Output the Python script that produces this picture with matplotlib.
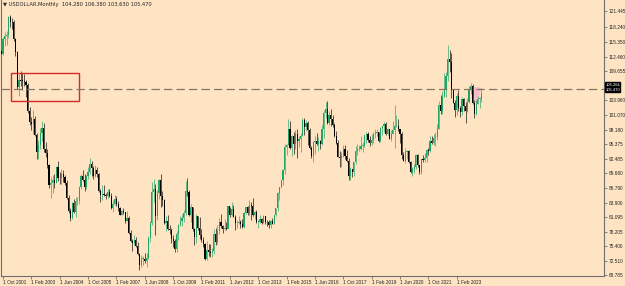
#!/usr/bin/env python3
"""Monthly USDOLLAR candles, MT4 style, with a marked zone and a level line."""

import matplotlib

matplotlib.use("Agg")
import matplotlib.pyplot as plt
import numpy as np
import pandas as pd

plt.rcParams["lines.scale_dashes"] = False
plt.rcParams["font.family"] = ["Liberation Sans Narrow", "Liberation Sans", "DejaVu Sans"]

# monthly bars, Sep 2001 .. Apr 2024 (open = previous close)
first_open = 113.7
closes = [
    113.1, 115.9, 116.6, 116.8,  # 2001 Sep-Dec
    120.2, 119.3, 119.2, 115.9, 113.4, 106.6, 107.9, 107.8, 107.7, 107.6, 107.0, 101.8,  # 2002
    99.7, 99.3, 100.3, 97.2, 93.8, 95.3, 97.5, 98.6, 94.4, 93.6, 91.4, 87.4,  # 2003
    87.7, 88.3, 87.8, 90.9, 88.8, 88.7, 89.6, 88.9, 87.7, 84.9, 82.3, 80.9,  # 2004
    83.8, 82.1, 84.2, 84.3, 87.1, 89.1, 88.4, 87.1, 89.2, 89.9, 91.6, 90.8,  # 2005
    89.2, 90.3, 89.6, 86.3, 85.4, 85.5, 85.4, 85.3, 86.1, 85.3, 82.9, 83.7,  # 2006
    84.7, 83.6, 82.9, 81.6, 82.3, 82.1, 80.4, 80.9, 78.0, 76.4, 76.0, 76.7,  # 2007
    75.4, 73.8, 71.8, 72.9, 73.0, 72.5, 73.1, 77.1, 79.9, 86.0, 86.7, 81.3,  # 2008
    85.9, 88.4, 85.2, 84.5, 79.9, 80.3, 78.8, 78.5, 76.8, 76.5, 74.9, 77.9,  # 2009
    79.5, 80.3, 81.0, 81.9, 86.3, 86.0, 81.6, 83.1, 78.8, 77.3, 81.3, 79.0,  # 2010
    77.7, 76.6, 75.9, 73.0, 74.6, 74.3, 74.0, 74.4, 77.9, 76.2, 78.4, 80.2,  # 2011
    79.3, 78.8, 79.0, 78.8, 83.2, 81.6, 82.7, 81.2, 79.9, 80.0, 80.2, 79.8,  # 2012
    79.2, 82.0, 83.0, 81.9, 83.5, 83.2, 81.5, 82.1, 80.2, 80.2, 80.7, 80.0,  # 2013
    81.3, 80.2, 80.1, 79.5, 80.4, 79.8, 81.5, 82.8, 85.9, 87.0, 88.4, 90.3,  # 2014
    94.8, 95.3, 98.4, 94.6, 96.9, 95.5, 97.3, 96.0, 96.4, 96.9, 100.2, 98.7,  # 2015
    99.6, 98.2, 94.6, 93.1, 95.9, 96.1, 95.5, 96.0, 95.4, 98.4, 101.5, 102.2,  # 2016
    99.5, 101.1, 100.4, 99.1, 97.0, 95.6, 92.9, 92.7, 93.1, 94.5, 93.0, 92.1,  # 2017
    89.1, 90.6, 89.9, 91.8, 94.0, 94.5, 94.5, 95.1, 95.1, 97.1, 97.3, 96.2,  # 2018
    95.6, 96.2, 97.3, 97.5, 97.8, 96.1, 98.5, 98.9, 99.4, 97.4, 98.3, 96.4,  # 2019
    97.4, 98.1, 99.0, 99.0, 98.3, 97.4, 93.3, 92.1, 93.9, 94.0, 91.9, 89.9,  # 2020
    90.6, 90.9, 93.2, 91.3, 90.0, 92.4, 92.2, 92.6, 94.2, 94.1, 96.0, 95.7,  # 2021
    96.5, 96.7, 98.3, 103.0, 101.8, 104.7, 105.9, 108.7, 112.1, 111.5, 105.9, 103.5,  # 2022
    102.1, 104.9, 102.5, 101.7, 104.3, 102.9, 101.9, 103.6, 106.2, 106.7, 103.5, 101.3,  # 2023
    103.3, 104.2, 104.28, 105.47,  # 2024 Jan-Apr
]
highs = [
    114.0, 116.4, 117.3, 117.5,
    120.5, 120.6, 120.1, 119.6, 116.2, 113.6, 109.1, 109.7, 109.4, 109.2, 107.9, 107.3,
    102.6, 100.8, 102.0, 100.9, 97.6, 96.2, 98.6, 99.9, 99.6, 95.9, 94.4, 91.5,
    88.9, 89.3, 89.6, 91.1, 92.0, 89.9, 90.5, 90.4, 89.4, 88.3, 85.4, 82.8,
    84.1, 84.7, 85.1, 85.0, 87.2, 89.5, 90.4, 89.6, 89.4, 90.9, 92.6, 92.0,
    91.1, 91.3, 91.0, 89.8, 86.6, 87.4, 87.3, 85.9, 86.6, 86.7, 85.9, 84.4,
    85.4, 85.2, 84.3, 83.0, 82.6, 82.9, 82.1, 82.3, 81.3, 78.6, 76.9, 77.6,
    77.2, 76.3, 74.0, 73.6, 73.5, 74.0, 74.0, 77.5, 80.4, 87.9, 88.5, 87.5,
    86.5, 88.6, 89.6, 86.3, 84.6, 81.3, 81.5, 79.5, 78.9, 77.7, 76.9, 78.3,
    79.7, 81.3, 81.8, 82.6, 88.2, 88.7, 86.5, 83.7, 83.0, 78.9, 81.8, 81.4,
    81.2, 78.8, 77.2, 76.1, 76.4, 75.9, 75.8, 75.0, 78.8, 79.0, 79.6, 81.0,
    81.8, 79.5, 80.7, 80.1, 83.3, 83.0, 84.1, 83.5, 81.6, 80.6, 81.4, 80.5,
    80.7, 82.2, 83.2, 83.3, 84.5, 84.0, 84.8, 82.3, 82.6, 80.6, 81.5, 81.0,
    81.5, 81.4, 80.6, 80.5, 80.6, 81.0, 81.6, 82.9, 86.1, 87.1, 88.4, 90.5,
    95.5, 95.5, 100.4, 100.0, 97.2, 97.8, 98.1, 98.3, 97.0, 97.6, 100.5, 100.5,
    100.1, 99.9, 98.6, 95.0, 96.0, 96.9, 97.6, 96.7, 96.3, 99.1, 102.0, 103.6,
    103.8, 101.8, 102.3, 101.0, 99.5, 97.9, 96.2, 94.1, 93.8, 95.2, 95.2, 94.2,
    92.6, 90.9, 90.6, 91.9, 95.0, 95.5, 95.2, 96.9, 95.8, 97.2, 97.7, 97.7,
    96.9, 97.4, 97.7, 98.3, 98.4, 97.8, 98.7, 99.0, 99.7, 99.7, 98.5, 98.3,
    98.2, 99.9, 103.0, 101.0, 100.4, 98.3, 97.8, 93.9, 94.7, 94.3, 94.3, 92.0,
    91.0, 91.6, 93.4, 93.4, 91.4, 92.4, 93.2, 93.7, 94.5, 94.6, 96.9, 96.9,
    97.4, 97.7, 99.4, 103.9, 105.0, 105.8, 109.3, 109.5, 114.8, 113.9, 113.2, 106.0,
    104.1, 105.4, 105.9, 102.8, 104.7, 104.5, 103.6, 104.4, 106.8, 107.4, 107.1, 104.0,
    104.0, 104.9, 104.7, 106.38,
]
lows = [
    111.3, 112.9, 114.6, 114.8,
    116.2, 118.3, 117.9, 115.6, 112.6, 106.1, 104.8, 106.7, 105.9, 106.8, 104.6, 101.5,
    99.1, 98.2, 97.4, 96.9, 92.5, 92.4, 94.4, 96.1, 93.9, 92.8, 90.8, 86.9,
    84.9, 85.9, 86.8, 87.7, 88.2, 87.5, 87.6, 87.9, 87.3, 84.7, 82.0, 80.4,
    80.8, 81.9, 81.2, 83.4, 83.6, 86.6, 88.1, 86.2, 86.6, 88.6, 89.6, 89.2,
    88.6, 89.0, 88.9, 86.1, 84.1, 84.4, 85.2, 84.6, 84.9, 85.0, 82.7, 82.2,
    83.4, 83.2, 82.4, 81.5, 81.5, 81.7, 80.0, 80.3, 77.9, 76.3, 74.5, 75.7,
    75.2, 73.7, 70.7, 71.3, 71.8, 72.2, 71.3, 73.0, 76.3, 79.5, 84.0, 77.7,
    80.6, 84.6, 83.0, 83.2, 79.7, 78.3, 78.5, 77.9, 76.0, 75.2, 74.2, 74.2,
    76.7, 79.3, 79.4, 80.1, 81.6, 85.3, 81.3, 80.1, 78.4, 75.6, 76.1, 78.6,
    76.9, 76.2, 75.3, 72.8, 72.7, 73.5, 73.4, 73.4, 73.8, 75.6, 75.9, 77.8,
    78.9, 78.1, 78.6, 78.6, 78.9, 81.2, 81.3, 81.1, 78.6, 79.0, 79.7, 79.0,
    78.9, 79.0, 81.8, 81.6, 81.6, 80.5, 81.3, 80.8, 79.9, 79.0, 80.0, 79.8,
    79.9, 79.8, 79.3, 78.9, 78.9, 79.7, 79.7, 81.4, 82.3, 84.5, 86.8, 87.3,
    89.6, 93.2, 95.2, 94.5, 93.1, 93.5, 94.5, 92.6, 94.8, 93.8, 96.9, 97.2,
    97.9, 95.2, 94.5, 92.6, 91.9, 93.4, 95.3, 94.1, 94.5, 95.3, 96.6, 100.6,
    99.4, 99.2, 98.9, 98.8, 96.8, 95.5, 92.8, 91.0, 91.0, 92.8, 92.5, 91.8,
    88.4, 88.3, 88.9, 89.2, 91.5, 93.2, 94.0, 94.3, 93.8, 94.8, 95.7, 95.8,
    95.0, 95.2, 95.7, 96.6, 96.9, 95.8, 95.8, 97.1, 97.8, 97.1, 97.1, 96.4,
    96.0, 97.3, 94.6, 98.8, 97.9, 95.7, 92.5, 92.1, 91.7, 92.5, 91.7, 89.7,
    89.2, 89.7, 90.6, 90.9, 89.5, 89.5, 91.8, 91.8, 91.9, 93.3, 93.9, 95.5,
    95.2, 95.1, 96.2, 98.3, 101.3, 101.3, 104.7, 104.6, 107.7, 109.5, 104.4, 103.4,
    100.8, 101.0, 101.9, 100.8, 101.0, 101.9, 99.6, 101.7, 103.4, 105.3, 103.2, 100.6,
    101.0, 103.3, 102.5, 103.63,
]

# axis labels, as printed on the chart (the one near 106.8 sits under the price boxes)
y_ticks = [121.445, 118.240, 115.350, 112.460, 109.655, 103.960, 101.070,
           98.180, 95.375, 92.485, 89.680, 86.790, 83.900, 81.095, 78.205, 75.400,
           72.510, 69.785]
x_tick_months = ["2001-10", "2003-02", "2004-06", "2005-10", "2007-02", "2008-06",
                 "2009-10", "2011-02", "2012-06", "2013-10", "2015-02", "2016-06",
                 "2017-10", "2019-02", "2020-06", "2021-10", "2023-02"]

# drawn objects
level_price = 106.264
bid_price = 105.470
box_months = ["2002-02", "2005-05"]
box_prices = [103.9, 109.4]
zone_months = ["2023-10", "2024-01", "2024-04"]
zone_prices = [106.7, 102.9, 106.4]
title = "USDOLLAR,Monthly  104.280 106.380 103.630 105.470"

BG = "#FFE4C4"
BULL = "#1fa566"
BEAR = "#000000"
FS = 3.4

months = pd.period_range("2001-09", "2024-04", freq="M")
idx = {str(p): i for i, p in enumerate(months)}
x = np.arange(len(months))
c = np.array(closes)
o = np.concatenate([[first_open], c[:-1]])
h = np.array(highs)
lo = np.array(lows)
up = c >= o
colors = np.where(up, BULL, BEAR)

fig = plt.figure(figsize=(6.25, 2.86), dpi=100, facecolor=BG)
ax = fig.add_axes([0.0016, 0.035, 0.9648, 0.965], facecolor=BG)

# zone triangle behind candles
zx = [idx[m] for m in zone_months]
ax.fill(zx, zone_prices, color="#f4b8c8", alpha=0.9, lw=0, zorder=1)

ax.vlines(x, lo, h, colors=colors, linewidth=0.6, alpha=0.75, zorder=2)
body_low = np.minimum(o, c)
body_h = np.maximum(np.abs(c - o), 0.15)
ax.bar(x, body_h, bottom=body_low, width=0.65, color=colors, linewidth=0, zorder=3)

# marked rectangle
bx0, bx1 = idx[box_months[0]] + 0.5, idx[box_months[1]] - 0.2
ax.add_patch(plt.Rectangle((bx0, box_prices[0]), bx1 - bx0, box_prices[1] - box_prices[0],
                           fill=False, edgecolor="#d32a2a", linewidth=1.0, zorder=4))

# level line
ax.axhline(level_price, color="#857563", linewidth=0.9, dashes=(6, 3), zorder=4)

ax.set_xlim(idx["2001-10"] - 2 / 1.775, idx["2001-10"] + 602 / 1.775)
ax.set_ylim(69.59, 123.6)

ax.set_xticks([idx[m] for m in x_tick_months])
ax.set_xticklabels([pd.Period(m).strftime("1 %b %Y") for m in x_tick_months],
                   ha="left", fontsize=FS, color="#222222")
ax.tick_params(axis="x", direction="out", length=2.5, width=0.5, pad=0.6, color="#555555")
ax.yaxis.tick_right()
ax.set_yticks(y_ticks)
ax.set_yticklabels([f"{v:.3f}" for v in y_ticks], fontsize=FS, color="#222222")
ax.tick_params(axis="y", direction="out", length=2, width=0.5, pad=1.2, color="#555555")

ax.spines["top"].set_visible(False)
for side in ("left", "right", "bottom"):
    ax.spines[side].set_color("#6e6e6e")
    ax.spines[side].set_linewidth(0.8)

# price boxes on the right scale, stacked so they do not cover each other
for price, dy in ((level_price, 0.78), (bid_price, 0.55)):
    ax.annotate(f"{price:.3f}", xy=(1.0, price + dy), xycoords=("axes fraction", "data"),
                xytext=(1.0, 0), textcoords="offset points", fontsize=3.0, color="white",
                va="center", ha="left", zorder=6, annotation_clip=False,
                bbox=dict(boxstyle="square,pad=0.05", fc="black", ec="black"))

fig.text(0.005, 0.983, "\u25bc " + title, fontsize=3.7, color="#222222", va="center",
         ha="left", family=["Liberation Sans Narrow", "DejaVu Sans"])

fig.savefig("out.png", dpi=100, facecolor=BG)
